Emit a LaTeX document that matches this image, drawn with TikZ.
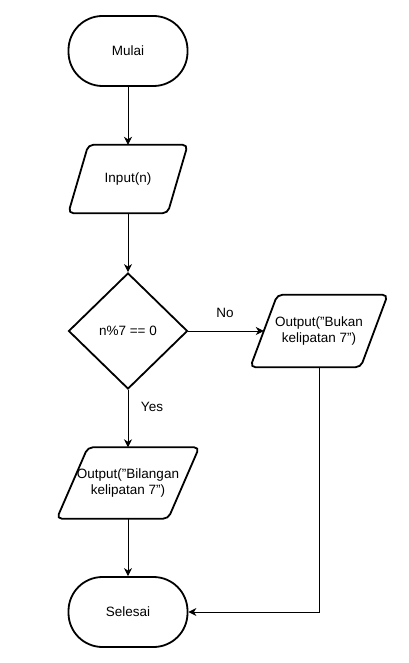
\documentclass[tikz,border=0pt]{standalone}
\usepackage{fontspec}
\setmainfont{Liberation Sans}
\usetikzlibrary{shapes.geometric,arrows.meta}
\begin{document}
\begin{tikzpicture}[x=1pt,y=-1pt,
  every node/.style={font=\fontsize{13.5}{15.5}\selectfont},
  term/.style={draw,line width=1.8pt,rounded corners=34pt,minimum width=119pt,minimum height=70pt,inner sep=0pt},
  dec/.style={draw,shape=diamond,line width=1.8pt,minimum width=119pt,minimum height=116pt,inner sep=0pt},
  iotext/.style={align=center,inner sep=0pt},
  shapeline/.style={draw,line width=1.8pt,rounded corners=5pt},
  flow/.style={line width=0.9pt,-{Stealth[length=8pt,width=8pt,inset=2.5pt]}},
  lbl/.style={inner sep=0pt}
]
\useasboundingbox[fill=white] (0,0) rectangle (408,663);

\node[term] (mulai) at (128,51) {Mulai};

\node[iotext,minimum width=119pt,minimum height=68pt] (inp) at (128,179) {Input(n)};
\draw[shapeline] ([xshift=20pt]inp.north west) -- (inp.north east) -- ([xshift=-20pt]inp.south east) -- (inp.south west) -- cycle;

\node[dec] (dec) at (128,331) {n\%7 == 0};

\node[iotext,minimum width=137pt,minimum height=72pt] (outno) at (319,331) {Output("Bukan\\kelipatan 7")};
\draw[shapeline] ([xshift=27pt]outno.north west) -- (outno.north east) -- ([xshift=-27pt]outno.south east) -- (outno.south west) -- cycle;
\coordinate (outnoin) at ([xshift=13.5pt]outno.west);

\node[iotext,minimum width=142pt,minimum height=71pt] (outyes) at (128,483) {Output("Bilangan\\kelipatan 7")};
\draw[shapeline] ([xshift=31pt]outyes.north west) -- (outyes.north east) -- ([xshift=-31pt]outyes.south east) -- (outyes.south west) -- cycle;

\node[term] (selesai) at (128,612) {Selesai};

\draw[flow] (mulai) -- (inp);
\draw[flow] (inp) -- (dec);
\draw[flow] (dec.east) -- (outnoin);
\draw[flow] (dec.south) -- (outyes.north);
\draw[flow] (outyes) -- (selesai);
\draw[flow] (outno.south) |- (selesai.east);

\node[lbl] (no) at (225,313) {No};
\node[lbl] (yes) at (152,407) {Yes};
\end{tikzpicture}
\end{document}
